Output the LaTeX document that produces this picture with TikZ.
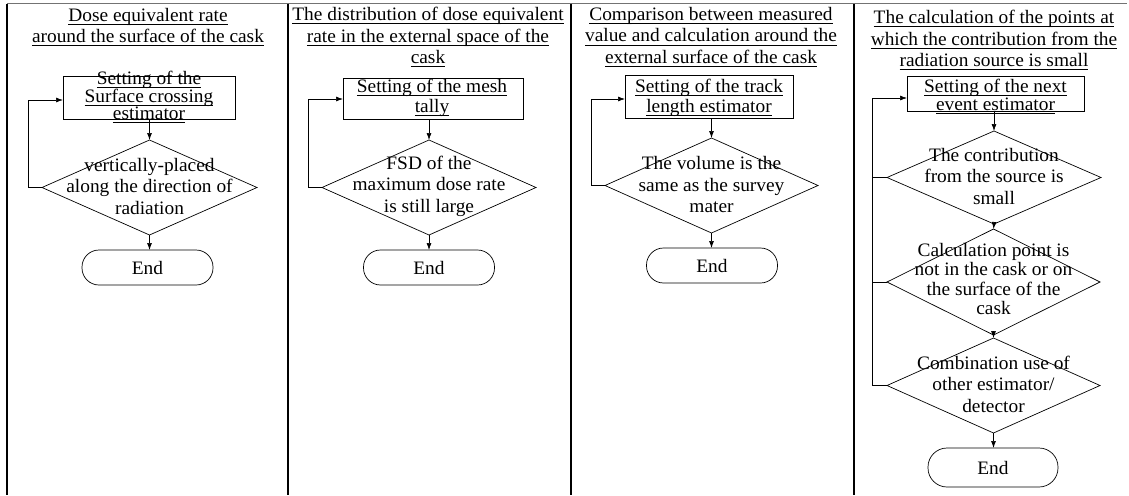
\documentclass[tikz,border=0pt]{standalone}
\usepackage{fontspec}
\setmainfont[FakeStretch=1.02]{Liberation Serif}
\usetikzlibrary{shapes.geometric,arrows.meta}
% underline one line of text with a rule just below the baseline
\newcommand\undl[1]{\setbox0\hbox{#1}\rlap{\rule[-3.2pt]{\wd0}{0.65pt}}\box0}

\begin{document}
\begin{tikzpicture}[x=1pt,y=-1pt,
  every node/.style={inner sep=0pt, outer sep=0pt},
  txt/.style={align=center, font=\fontsize{19}{21.5}\selectfont},
  boxtxt/.style={align=center, font=\fontsize{19}{#1}\selectfont},
  boxtxt/.default=20,
  stepbox/.style 2 args={draw, line width=0.7pt, rectangle, minimum width=#1, minimum height=#2},
  decide/.style 2 args={draw, line width=0.7pt, diamond, minimum width=#1, minimum height=#2},
  stop/.style={draw, line width=0.7pt, rectangle, rounded corners=17pt, minimum width=131, minimum height=35,
    font=\fontsize{19}{20}\selectfont},
  flow/.style={line width=0.7pt, -{Latex[length=7pt,width=5pt]}},
  loop/.style={line width=0.7pt},
  sep/.style={line width=1.1pt}]
\useasboundingbox (0,0) rectangle (1129,495);

% frame: top rule and column separators
\coordinate (t0) at (7,4);
\coordinate (t1) at (1127,4);
\draw[line width=1pt, black!55] (t0) -- (t1);
\foreach \xx [count=\i] in {7,288,571,854} {
  \coordinate (sa\i) at (\xx,4);
  \coordinate (sb\i) at (\xx,495);
  \draw[sep] (sa\i) -- (sb\i);
}

% ---------- column 1 ----------
\node[txt] (h1) at (148,27) {\undl{Dose equivalent rate}\\\undl{around the surface of the cask}};
\node[stepbox={172}{43}] (b1) at (149,97.5) {};
\node[boxtxt=17] (bt1) at (149,97) {\undl{Setting of the}\\\undl{Surface crossing}\\\undl{estimator}};
\node[decide={215}{95}] (d1) at (149.5,187.5) {};
\node[txt] (dt1) at (149.5,186) {vertically-placed\\along the direction of\\radiation};
\node[stop] (e1) at (147.5,267.5) {End};
\draw[flow] (b1.south -| d1.north) -- (d1.north);
\draw[flow] (d1.south) -- (e1.north -| d1.south);
\coordinate (l1) at (28,100);
\draw[loop] (d1.west) -| (l1);
\draw[flow] (l1) -- (l1 -| b1.west);

% ---------- column 2 ----------
\node[txt] (h2) at (428,37) {\undl{The distribution of dose equivalent}\\\undl{rate in the external space of the}\\\undl{cask}};
\node[stepbox={180}{41}] (b2) at (433,98.5) {};
\node[boxtxt] (bt2) at (432,98) {\undl{Setting of the mesh}\\\undl{tally}};
\node[decide={214}{95}] (d2) at (429,187.5) {};
\node[txt] (dt2) at (429,186) {FSD of the\\maximum dose rate\\is still large};
\node[stop] (e2) at (429,267.5) {End};
\draw[flow] (b2.south -| d2.north) -- (d2.north);
\draw[flow] (d2.south) -- (e2.north);
\coordinate (l2) at (308,99);
\draw[loop] (d2.west) -| (l2);
\draw[flow] (l2) -- (l2 -| b2.west);

% ---------- column 3 ----------
\node[txt] (h3) at (711,37) {\undl{Comparison between measured}\\\undl{value and calculation around the}\\\undl{external surface of the cask}};
\node[stepbox={168}{43}] (b3) at (709,96.5) {};
\node[boxtxt] (bt3) at (709,98) {\undl{Setting of the track}\\\undl{length estimator}};
\node[decide={213}{95}] (d3) at (711.5,185.5) {};
\node[txt] (dt3) at (711.5,184.5) {The volume is the\\same as the survey\\mater};
\node[stop] (e3) at (712,265.5) {End};
\draw[flow] (b3.south -| d3.north) -- (d3.north);
\draw[flow] (d3.south) -- (e3.north -| d3.south);
\coordinate (l3) at (591,99);
\draw[loop] (d3.west) -| (l3);
\draw[flow] (l3) -- (l3 -| b3.west);

% ---------- column 4 ----------
\node[txt] (h4) at (994,40) {\undl{The calculation of the points at}\\\undl{which the contribution from the}\\\undl{radiation source is small}};
\node[stepbox={177}{35}] (b4) at (995.5,93.5) {};
\node[boxtxt=18] (bt4) at (995.5,96) {\undl{Setting of the next}\\\undl{event estimator}};
\node[decide={214}{93}] (d41) at (994,177.5) {};
\node[txt] (dt41) at (994,176) {The contribution\\from the source is\\small};
\node[decide={213}{106}] (d42) at (993.5,282) {};
\node[txt, font=\fontsize{19}{19.5}\selectfont] (dt42) at (993.5,279) {Calculation point is\\not in the cask or on\\the surface of the\\cask};
\node[decide={213}{95}] (d43) at (993.5,385.5) {};
\node[txt] (dt43) at (993.5,384) {Combination use of\\other estimator/\\detector};
\node[stop, minimum width=130, minimum height=39, rounded corners=19pt] (e4) at (993,467.5) {End};
\draw[flow] (b4.south -| d41.north) -- (d41.north);
\draw[flow] (d41.south) -- (d42.north);
\draw[flow] (d42.south) -- (d43.north);
\draw[flow] (d43.south) -- (e4.north -| d43.south);
\coordinate (l4) at (872,98);
\draw[loop] (d43.west) -| (l4);
\draw[loop] (d41.west) -- (d41.west -| l4);
\draw[loop] (d42.west) -- (d42.west -| l4);
\draw[flow] (l4) -- (l4 -| b4.west);
\end{tikzpicture}
\end{document}
